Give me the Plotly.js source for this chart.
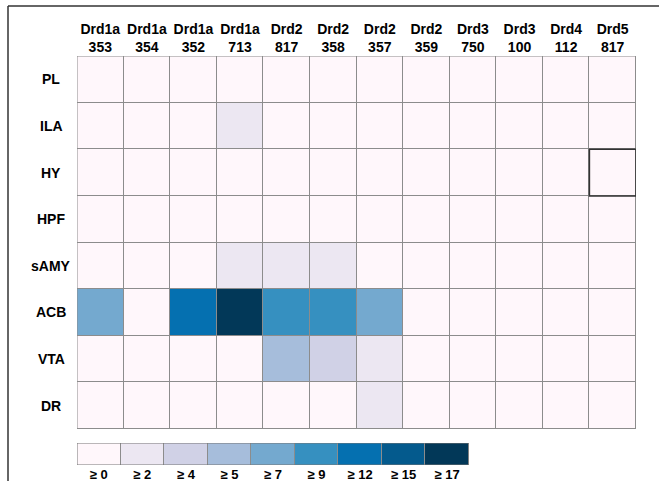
<!DOCTYPE html>
<html><head><meta charset="utf-8">
<script src="https://cdn.plot.ly/plotly-3.0.1.min.js"></script>
<style>html,body{margin:0;padding:0;background:#fff}#g{width:659px;height:481px}</style>
</head><body><div id="g"></div>
<script>
const genes = ['Drd1a','Drd1a','Drd1a','Drd1a','Drd2','Drd2','Drd2','Drd2','Drd3','Drd3','Drd4','Drd5'];
const ids   = ['353','354','352','713','817','358','357','359','750','100','112','817'];
const regions = ['PL','ILA','HY','HPF','sAMY','ACB','VTA','DR'];
const PL   = [0,0,0,0,0,0,0,0,0,0,0,0];
const ILA  = [0,0,0,3,0,0,0,0,0,0,0,0];
const HY   = [0,0,0,0,0,0,0,0,0,0,0,0];
const HPF  = [0,0,0,0,0,0,0,0,0,0,0,0];
const sAMY = [0,0,0,3,3,3,0,0,0,0,0,0];
const ACB  = [8,0,13,18,10,10,8,0,0,0,0,0];
const VTA  = [0,0,0,0,6,4.5,3,0,0,0,0,0];
const DR   = [0,0,0,0,0,0,3,0,0,0,0,0];
const thresholds = [0,2,4,5,7,9,12,15,17];
const binLabels = ['≥ 0','≥ 2','≥ 4','≥ 5','≥ 7','≥ 9','≥ 12','≥ 15','≥ 17'];
const colors = ['#fff7fb','#ece7f2','#d0d1e6','#a6bddb','#74a9cf','#3690c0','#0570b0','#045a8d','#023858'];
const highlightRegion = 'HY', highlightCol = 11;

const rows = [PL,ILA,HY,HPF,sAMY,ACB,VTA,DR];
function level(v){let l=0;thresholds.forEach((t,i)=>{if(v>=t)l=i;});return l;}
const zLev = rows.map(r=>r.map(level));
const n = colors.length;
const cs = [];
colors.forEach((c,i)=>{cs.push([i/n,c]);cs.push([(i+1)/n,c]);});
const colIdx = genes.map((g,i)=>i);
const colText = genes.map((g,i)=>'<b>'+g+'<br>'+ids[i]+'</b>');
const rowIdx = regions.map((r,i)=>i);

const W=659,H=481;
const px=x=>x/W, py=y=>1-y/H;
const grid = '#8c8c8c';
const font = {family:'Liberation Sans, Arial, sans-serif', color:'#000'};

const traces = [
 {type:'heatmap', z:zLev, x:colIdx, y:rowIdx, colorscale:cs, zmin:-0.5, zmax:n-0.5,
  showscale:false, xgap:1, ygap:1, hoverinfo:'skip'},
 {type:'heatmap', z:[colors.map((c,i)=>i)], x:colors.map((c,i)=>i), y:[0], colorscale:cs,
  zmin:-0.5, zmax:n-0.5, showscale:false, xgap:1, xaxis:'x2', yaxis:'y2', hoverinfo:'skip'}
];

const annotations = regions.map((r,i)=>({x:px(51), xref:'paper', y:i, yref:'y', text:'<b>'+r+'</b>',
  showarrow:false, xanchor:'center', yanchor:'middle', font:Object.assign({size:14},font)}));

const hr = regions.indexOf(highlightRegion);
const shapes = [
 {type:'rect', xref:'x', yref:'y', x0:-0.5, x1:genes.length-0.5, y0:-0.5, y1:regions.length-0.5, line:{color:grid,width:1}},
 {type:'rect', xref:'x2', yref:'y2', x0:-0.5, x1:n-0.5, y0:-0.5, y1:0.5, line:{color:'#777',width:1}},
 {type:'rect', xref:'x', yref:'y', x0:highlightCol-0.5, x1:highlightCol+0.5, y0:hr-0.5, y1:hr+0.5, line:{color:'#333',width:1.5}},
 {type:'line', xref:'paper', yref:'paper', x0:px(8), x1:1, y0:py(6), y1:py(6), line:{color:'#333',width:1.5}},
 {type:'line', xref:'paper', yref:'paper', x0:px(8), x1:px(8), y0:py(6), y1:0, line:{color:'#333',width:1.5}}
];

const layout = {
 width:W, height:H, margin:{l:0,r:0,t:0,b:0}, paper_bgcolor:'#fff', plot_bgcolor:grid,
 showlegend:false, font:font,
 xaxis:{domain:[px(77),px(636)], range:[-0.5,genes.length-0.5], side:'top', tickvals:colIdx, ticktext:colText,
   tickfont:Object.assign({size:14},font), showgrid:false, zeroline:false, ticks:'', fixedrange:true},
 yaxis:{domain:[py(429),py(56)], range:[regions.length-0.5,-0.5], showticklabels:false, showgrid:false, zeroline:false, ticks:''},
 xaxis2:{domain:[px(77),px(469)], anchor:'y2', range:[-0.5,n-0.5], tickvals:colors.map((c,i)=>i), ticktext:binLabels.map(s=>'<b>'+s+'</b>'),
   tickfont:Object.assign({size:13},font), showgrid:false, zeroline:false, ticks:''},
 yaxis2:{domain:[py(465),py(443)], anchor:'x2', range:[-0.5,0.5], showticklabels:false, showgrid:false, zeroline:false, ticks:''},
 annotations:annotations, shapes:shapes
};
Plotly.newPlot('g', traces, layout, {displayModeBar:false, staticPlot:true});
</script></body></html>
